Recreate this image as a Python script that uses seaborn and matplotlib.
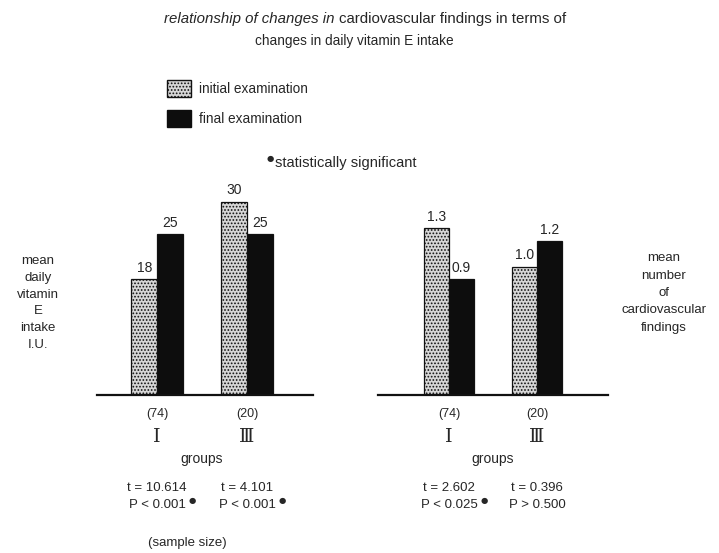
import matplotlib
matplotlib.use("Agg")
import matplotlib.pyplot as plt
import matplotlib.patches as mpatches
import pandas as pd
import seaborn as sns

groups = ["I", "III"]
roman = ["\u2160", "\u2162"]
sample_sizes = ["(74)", "(20)"]
exams = ["initial examination", "final examination"]
vitamin_e = {"initial examination": [18, 30], "final examination": [25, 25]}
cardio = {"initial examination": [1.3, 1.0], "final examination": [0.9, 1.2]}
left_t = ["t = 10.614", "t = 4.101"]
left_p = ["P < 0.001", "P < 0.001"]
right_t = ["t = 2.602", "t = 0.396"]
right_p = ["P < 0.025", "P > 0.500"]
left_sig = [True, True]
right_sig = [True, False]

sns.set_theme(style="white")
plt.rcParams["font.family"] = ["Liberation Sans", "DejaVu Sans"]
plt.rcParams["hatch.linewidth"] = 0.8

W, H = 719, 553
fig = plt.figure(figsize=(W / 100, H / 100), dpi=100)


def make_df(d):
    rows = []
    for ex in exams:
        for g, v in zip(groups, d[ex]):
            rows.append({"group": g, "exam": ex, "value": v})
    return pd.DataFrame(rows)


def px_axes(x0, x1, ybase, height):
    return fig.add_axes([x0 / W, (H - ybase) / H, (x1 - x0) / W, height / H])


stipple = "#d6d6d6"
dots = "....."
palette = {"initial examination": stipple, "final examination": "#0d0d0d"}


def draw(ax, d, xlim, ylim, fmt, tvals, pvals, sig):
    df = make_df(d)
    sns.barplot(data=df, x="group", y="value", hue="exam", palette=palette,
                width=0.57, ax=ax, edgecolor="#111111", linewidth=0.9,
                legend=False, saturation=1)
    for p in ax.containers[0].patches:
        p.set_hatch(dots)
    for c in ax.containers:
        ax.bar_label(c, fmt=fmt, padding=3, fontsize=10)
    ax.set_xlim(*xlim)
    ax.set_ylim(*ylim)
    ax.set_yticks([])
    ax.set_xlabel("")
    ax.set_ylabel("")
    for s in ["left", "right", "top"]:
        ax.spines[s].set_visible(False)
    ax.spines["bottom"].set_linewidth(1.6)
    ax.spines["bottom"].set_color("#111111")
    ax.set_xticks(range(len(groups)))
    ax.set_xticklabels(sample_sizes, fontsize=9)
    ax.tick_params(axis="x", length=0, pad=9)
    tr = ax.get_xaxis_transform()
    for i, r in enumerate(roman):
        ax.text(i, -0.2, r, transform=tr, ha="center", va="center",
                fontsize=14, family=["DejaVu Serif", "DejaVu Sans"])
    ax.text(0.5, -0.305, "groups", transform=tr, ha="center", va="center", fontsize=10)
    for i in range(len(groups)):
        ax.text(i, -0.445, tvals[i], transform=tr, ha="center", va="center", fontsize=9.5)
        pt = ax.text(i, -0.525, pvals[i], transform=tr, ha="center", va="center",
                     fontsize=9.5)
        if sig[i]:
            ax.annotate("\u25cf", xy=(1, 1.0), xycoords=pt, xytext=(2, 2.5),
                        textcoords="offset points", ha="left", va="top",
                        fontsize=6, family="DejaVu Sans")


axL = px_axes(97, 313, 395, 210)
draw(axL, vitamin_e, (-0.667, 1.733), (0, 210 / 6.45), "%d", left_t, left_p, left_sig)
axR = px_axes(378, 608, 395, 210)
draw(axR, cardio, (-0.807, 1.807), (0, 210 / 128.5), "%.1f", right_t, right_p, right_sig)

# title
fig.text(339 / W, 1 - 19 / H, "relationship of changes in ", ha="right", va="center",
         fontsize=10.8, fontstyle="italic")
fig.text(339 / W, 1 - 19 / H, "cardiovascular findings in terms of", ha="left",
         va="center", fontsize=10.8)
fig.text(354 / W, 1 - 41 / H, "changes in daily vitamin E intake", ha="center",
         va="center", fontsize=9.8)

# legend
handles = [mpatches.Patch(facecolor=stipple, edgecolor="#111111", hatch=dots),
           mpatches.Patch(facecolor="#0d0d0d", edgecolor="#0d0d0d")]
fig.legend(handles, exams, loc="upper left", bbox_to_anchor=(155 / W, 1 - 68 / H),
           frameon=False, fontsize=9.8, handlelength=1.75, handleheight=1.55,
           labelspacing=0.9, handletextpad=0.6)

fig.text(267 / W, 1 - 159 / H, "\u25cf", ha="left", va="center", fontsize=6,
         family="DejaVu Sans")
fig.text(275 / W, 1 - 163 / H, "statistically significant", ha="left", va="center",
         fontsize=10.5)

fig.text(38 / W, 1 - 303 / H, "mean\ndaily\nvitamin\nE\nintake\nI.U.", ha="center",
         va="center", fontsize=9.5, linespacing=1.55)
fig.text(664 / W, 1 - 293 / H, "mean\nnumber\nof\ncardiovascular\nfindings", ha="center",
         va="center", fontsize=9.5, linespacing=1.6)
fig.text(148 / W, 1 - 543 / H, "(sample size)", ha="left", va="center", fontsize=9.5)

fig.savefig("out.png", dpi=100, facecolor="white")
